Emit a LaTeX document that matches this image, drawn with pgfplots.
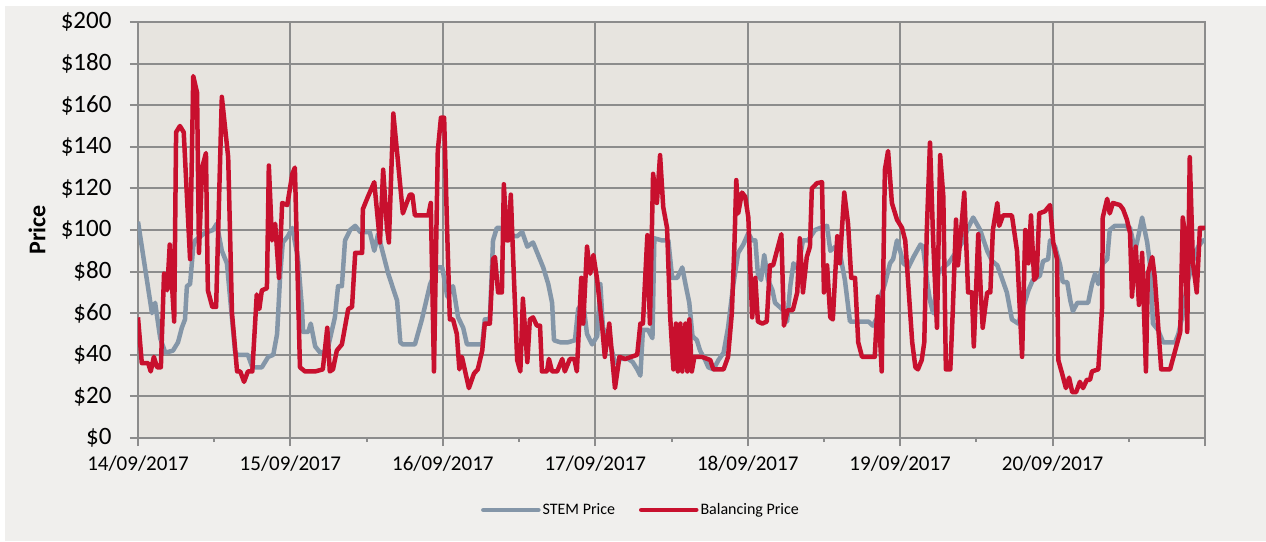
\documentclass[border=0pt]{standalone}
\usepackage{pgfplots}
\pgfplotsset{compat=1.18}
\usepackage{fontspec}
\setmainfont{Carlito}
\definecolor{outerbg}{HTML}{F0EFED}
\definecolor{plotbg}{HTML}{E7E4DF}
\definecolor{gridc}{HTML}{8C8C8C}
\definecolor{redl}{HTML}{C8102E}
\definecolor{grayl}{HTML}{8496A8}
\begin{document}
\begin{tikzpicture}[x=1pt,y=1pt]
\fill[white] (-138,-103) rectangle (1128,438);
\fill[outerbg] (-133,-103) rectangle (1128,432);
\begin{axis}[
  at={(0,0)}, anchor=south west,
  scale only axis, width=1067pt, height=416pt,
  xmin=0, xmax=168, ymin=0, ymax=200,
  axis background/.style={fill=plotbg},
  xtick={0,24,...,168},
  xticklabels={14/09/2017,15/09/2017,16/09/2017,17/09/2017,18/09/2017,19/09/2017,20/09/2017,{}},
  minor xtick={12,36,...,156},
  ytick={0,20,...,200},
  yticklabels={\$0,\$20,\$40,\$60,\$80,\$100,\$120,\$140,\$160,\$180,\$200},
  grid=major,
  major grid style={gridc, line width=2pt},
  axis line style={gridc, line width=2pt},
  tick style={gridc, line width=2pt},
  tick align=outside, tick pos=left,
  major tick length=8pt, minor tick length=4pt,
  xticklabel style={font=\fontsize{21}{25}\selectfont, yshift=-6pt},
  yticklabel style={font=\fontsize{25}{30}\selectfont, xshift=-15pt},
  ylabel={Price},
  ylabel style={font=\fontsize{24}{28}\selectfont\bfseries, at={(axis description cs:-0.0947,0.5)}, anchor=center},
  legend style={at={(axis description cs:0.4714,-0.173)}, anchor=center, draw=none, fill=none,
    font=\fontsize{16}{19}\selectfont, legend columns=2,
    /tikz/every even column/.append style={column sep=22pt}},
  legend image code/.code={\draw[#1, line cap=round] (0pt,0pt) -- (55pt,0pt);},
]
\addplot[grayl, line width=4.5pt, line join=round] coordinates {
(0,104)(1.1,82)(2.2,60)(2.7,65)(3.5,48)(4.3,41)(5.5,42)(6.3,46)(6.9,53)(7.4,57)(7.7,73)(8.2,74)(8.7,92)(9.0,95)(10.5,98.5)(11.8,100)(12.4,103)(13.2,90)(14.0,84)(15.3,41)(15.7,40)(17.3,40)(18.0,34)(19.5,34)(20.5,39)(21.3,40)(21.9,50)(22.4,79)(22.8,94)(23.6,97)(24.3,101)(25.2,86)(25.8,63)(26.0,51)(26.8,51)(27.2,55)(27.9,44)(28.7,41)(29.8,42)(31.0,58)(31.5,73)(32.1,73)(32.6,95)(33.4,100)(34.2,102)(35.0,99)(36.5,99)(37.2,90)(37.8,98)(39.4,79)(40.8,66)(41.3,46)(41.7,45)(43.6,45)(44.7,57)(46.0,74)(47.2,82)(47.9,82)(48.7,68)(49.6,73)(50.4,58)(51.2,53)(51.8,45)(54.2,45)(54.6,57)(55.4,57)(55.9,95)(56.5,101)(57.0,101)(57.8,100)(58.9,97)(59.7,97)(60.5,99)(61.3,92)(62.2,94)(63.0,88)(63.8,82)(64.6,74)(65.2,65)(65.5,47)(66.5,46)(67.7,46)(68.8,47)(69.3,62)(70.1,65)(70.7,50)(71.5,45)(72.3,49)(72.8,74)(73.2,53)(74.3,46)(75.1,36)(75.9,38)(77.2,38)(77.9,36.5)(78.6,33)(79.1,30)(79.5,52)(80.3,52)(81.0,48)(81.3,96)(82.5,95)(83.5,95)(84.1,77)(84.9,77)(85.7,82)(86.2,74)(86.8,65)(87.3,49)(88.0,47)(88.5,42)(89.3,37.5)(89.8,34)(90.6,33)(91.4,37.5)(92.2,41)(92.9,53)(93.7,73)(94.5,89)(95.3,93)(96.1,98.5)(96.7,95)(97.2,95)(97.6,79)(98.1,76)(98.6,88)(99.2,76)(99.9,71)(100.3,65)(101.4,62)(102.2,56)(102.7,73)(103.2,84)(103.9,81)(104.7,95)(105.5,95)(106.6,100)(107.4,101)(108.5,102)(109.0,90)(109.8,92)(110.5,89)(111.3,76)(112.1,56)(113.2,56)(115.0,56)(115.7,54)(116.4,58)(116.9,68)(117.6,74)(118.4,84)(118.9,86)(119.5,95)(120.0,90)(120.5,84)(121.3,82)(122.1,87)(123.2,93)(123.6,92)(124.3,74)(124.7,66)(125.2,60)(126.0,79)(126.8,82)(127.6,84)(128.7,89)(129.8,94)(130.7,101)(131.5,106)(132.6,100)(133.7,90)(134.5,85)(135.3,83)(136.0,77)(136.8,70)(137.6,57)(138.6,55)(139.4,63)(140.2,71)(140.9,76)(142.0,78)(142.5,85)(143.3,86)(143.6,95)(144.4,92)(145.2,83)(145.6,75)(146.3,75)(146.8,66)(147.2,61)(147.9,65)(149.6,65)(150.2,74)(150.7,79)(151.2,74)(151.9,84)(152.6,86)(153.0,100)(153.8,102)(155.4,102)(156.2,101)(157.0,90)(157.5,97)(158.1,106)(158.9,94)(159.4,82)(159.8,55)(160.6,52)(161.4,46)(163.3,46)(163.8,50)(164.4,58)(165.2,74)(166.0,84)(166.9,92)(167.7,95)(168,95)
};
\addlegendentry{STEM Price}
\addplot[redl, line width=4.5pt, line join=round] coordinates {
(0,58)(0.6,36)(1.6,36)(2.0,32)(2.5,39)(3.0,34)(3.6,34)(4.1,79)(4.6,71)(5.0,93)(5.4,71)(5.7,56)(6.0,147)(6.6,150)(7.2,147)(8.2,86)(8.7,174)(9.3,166)(9.6,89)(10.1,130)(10.7,137)(11.0,71)(11.7,63)(12.3,63)(13.2,164)(14.2,135)(14.8,60)(15.6,32)(16.1,32)(16.7,27)(17.3,32)(18.0,32)(18.7,69)(19.1,62)(19.5,71)(20.3,72)(20.6,131)(21.1,95)(21.6,103)(22.2,77)(22.7,113)(23.5,112)(24.3,127)(24.7,130)(25.5,34)(26.3,32)(27.9,32)(29.1,33)(29.8,53)(30.2,32)(30.7,33)(31.3,42)(32.1,45)(33.1,62)(33.7,63)(34.2,89)(35.3,89)(35.4,110)(36.2,116)(37.2,123)(38.1,94)(38.6,129)(39.2,101)(39.5,94)(40.2,156)(40.9,134)(41.7,108)(42.8,117)(43.2,117)(43.6,107)(45.7,107)(46.1,113)(46.6,32)(47.2,138)(47.7,154)(48.2,154)(48.7,97)(49.1,57)(49.6,57)(50.2,50)(50.6,33)(51.0,39)(52.1,24)(52.9,31)(53.5,33)(54.2,42)(54.6,55)(55.4,55)(55.9,86)(56.2,87)(56.7,70)(57.3,70)(57.6,122)(58.1,95)(58.3,95)(58.7,117)(59.1,84)(59.7,37.5)(60.2,32)(60.6,67)(61.3,36.5)(61.7,57)(62.2,58)(62.8,54)(63.3,54)(63.6,32)(64.4,32)(64.7,38)(65.2,32)(66.0,32)(66.8,38)(67.2,32)(68.0,38)(68.7,38)(69.1,32)(69.8,77)(70.1,55)(70.7,92)(71.2,79)(71.7,88)(72.3,76)(73.1,53)(73.5,39)(74.2,55)(74.7,37.5)(75.1,24)(75.8,39)(76.7,38)(78.6,40)(79.1,55)(79.5,55)(80.2,97.5)(80.6,55)(81.1,127)(81.7,113)(82.2,136)(82.7,111)(83.3,101)(83.8,58)(84.3,33)(84.7,55)(85.0,32)(85.4,55)(85.7,32)(86.2,55)(86.5,32)(86.8,57)(87.2,32)(87.6,39)(88.8,39)(90.1,37.5)(90.6,33)(92.2,33)(92.9,39)(93.5,60)(93.9,92)(94.2,124)(94.5,108)(95.1,118)(95.6,116)(96.1,106)(96.7,58)(97.2,77)(97.6,56)(98.3,55)(99.0,56)(99.5,83)(100.0,83)(100.6,90)(101.3,98)(101.7,54)(102.3,61.5)(103.1,61.5)(103.8,70)(104.2,96)(104.7,70)(105.3,87)(105.8,92)(106.1,120)(106.9,122.5)(107.7,123)(108.0,70)(108.5,83)(109.0,58)(109.4,57)(110.1,97)(110.5,84)(111.2,118)(111.8,103)(112.3,77)(112.9,77)(113.4,46)(114.0,39)(116.0,39)(116.5,68)(117.1,32)(117.6,129)(118.1,138)(118.7,113)(119.5,105)(120.3,101)(120.8,95)(121.3,73)(121.9,46)(122.4,34)(122.8,33)(123.4,37.5)(123.8,46)(124.2,100)(124.7,142)(125.2,95)(125.8,53)(126.3,136)(126.8,116)(127.2,33)(127.9,33)(128.3,62)(128.8,105)(129.1,83)(129.6,100)(130.1,118)(130.7,70)(131.3,70)(131.6,44)(132.3,98)(132.7,70)(133.0,53)(133.7,70)(134.2,70)(134.6,100)(135.3,113)(135.6,102)(136.2,107)(137.6,107)(138.4,90)(139.2,39)(139.7,100)(140.2,84)(140.6,107)(141.1,76)(141.5,78)(141.9,108)(142.8,109)(143.6,112)(144.1,94)(144.7,86)(144.9,37.5)(145.5,31)(146.1,24)(146.6,29)(147.1,22)(147.7,22)(148.3,27)(148.8,24)(149.4,28)(149.9,28)(150.2,32)(151.2,33)(151.8,63)(151.9,106)(152.6,115)(153.0,108)(153.5,113)(154.6,112)(155.1,110)(155.7,105)(156.2,98.5)(156.5,68)(157.1,92)(157.6,64)(158.1,89)(158.7,32)(159.0,79)(159.7,87)(160.1,77)(161.1,33)(162.5,33)(163.3,42)(164.1,51)(164.5,106)(164.9,97)(165.2,51)(165.6,135)(166.1,84)(166.7,70)(167.2,101)(168,101)
};
\addlegendentry{Balancing Price}
\end{axis}
\end{tikzpicture}
\end{document}
